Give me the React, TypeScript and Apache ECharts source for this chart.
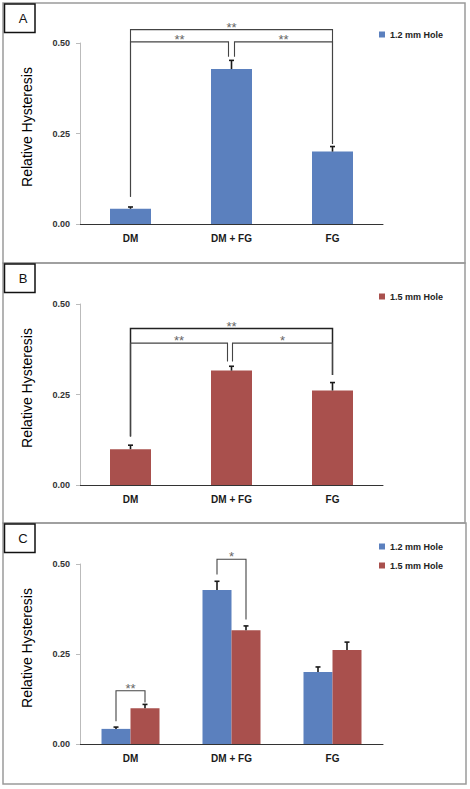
import React, { useEffect, useRef } from "react";
import * as echarts from "echarts";

const categories = ["DM", "DM + FG", "FG"];
const seriesNames = ["1.2 mm Hole", "1.5 mm Hole"];
const hole12 = [0.042, 0.428, 0.2];
const hole12Err = [0.005, 0.024, 0.014];
const hole15 = [0.099, 0.316, 0.261];
const hole15Err = [0.011, 0.012, 0.022];
const yTicks = [0, 0.25, 0.5];
const panelLetters = ["A", "B", "C"];
const yTitle = "Relative Hysteresis";

// significance brackets: category indices, value levels, label
const bracketsA = [
  { from: 0, to: 2, top: 0.537, leftEnd: 0.075, rightEnd: 0.221, label: "**" },
  { from: 0, to: 1, top: 0.503, leftEnd: 0.075, rightEnd: 0.462, label: "**", toShift: -3 },
  { from: 1, to: 2, top: 0.503, leftEnd: 0.462, rightEnd: 0.221, label: "**", fromShift: 3 },
];
const bracketsB = [
  { from: 0, to: 2, top: 0.432, leftEnd: 0.134, rightEnd: 0.304, label: "**", heavy: true },
  { from: 0, to: 1, top: 0.392, leftEnd: 0.134, rightEnd: 0.341, label: "**", toShift: -4 },
  { from: 1, to: 2, top: 0.392, leftEnd: 0.341, rightEnd: 0.304, label: "*", fromShift: 1 },
];
const bracketsC = [
  { from: 0, to: 0, top: 0.148, leftEnd: 0.063, rightEnd: 0.115, label: "**", fromSeries: 0, toSeries: 1 },
  { from: 1, to: 1, top: 0.513, leftEnd: 0.471, rightEnd: 0.346, label: "*", fromSeries: 0, toSeries: 1 },
];

const BLUE = "#5B80BE";
const RED = "#A9504D";
const FONT = "'Liberation Sans', Arial, sans-serif";
const BAR_SINGLE = 41;
const BAR_PAIR = 29;

const gridTops = [43, 304, 564];

function errorSeries(gi: number, vals: number[], errs: number[], offset: number) {
  return {
    type: "custom",
    xAxisIndex: gi,
    yAxisIndex: gi,
    z: 5,
    silent: true,
    data: vals.map((v, i) => [i, v, v + errs[i]]),
    renderItem: (params: any, api: any) => {
      const base = api.coord([api.value(0), api.value(1)]);
      const top = api.coord([api.value(0), api.value(2)]);
      const x = base[0] + offset;
      return {
        type: "group",
        children: [
          { type: "line", shape: { x1: x, y1: base[1], x2: x, y2: top[1] }, style: { stroke: "#1a1a1a", lineWidth: 1.6 } },
          { type: "line", shape: { x1: x - 2.5, y1: top[1], x2: x + 2.5, y2: top[1] }, style: { stroke: "#1a1a1a", lineWidth: 1.6 } },
        ],
      };
    },
  };
}

function bracketSeries(gi: number, brackets: any[], pairOffset: number) {
  return {
    type: "custom",
    xAxisIndex: gi,
    yAxisIndex: gi,
    z: 6,
    silent: true,
    clip: false,
    data: brackets.map((b) => [b.from, b.top]),
    renderItem: (params: any, api: any) => {
      const b = brackets[params.dataIndex];
      const so = (s: any) => (s === undefined ? 0 : s === 0 ? -pairOffset : pairOffset);
      const pTopL = api.coord([b.from, b.top]);
      const pTopR = api.coord([b.to, b.top]);
      const xl = pTopL[0] + so(b.fromSeries) + (b.fromShift || 0);
      const xr = pTopR[0] + so(b.toSeries) + (b.toShift || 0);
      const yt = pTopL[1];
      const yl = api.coord([b.from, b.leftEnd])[1];
      const yr = api.coord([b.to, b.rightEnd])[1];
      const stroke = b.heavy ? "#222" : "#444";
      const lw = b.heavy ? 1.5 : 1.1;
      return {
        type: "group",
        children: [
          { type: "polyline", shape: { points: [[xl, yl], [xl, yt], [xr, yt], [xr, yr]] }, style: { stroke, lineWidth: lw, fill: "none" } },
          {
            type: "text",
            style: {
              text: b.label,
              x: (xl + xr) / 2,
              y: yt + 4,
              align: "center",
              verticalAlign: "bottom",
              fill: "#666",
              font: `13px ${FONT}`,
            },
          },
        ],
      };
    },
  };
}

export default function App() {
  const ref = useRef<HTMLDivElement>(null);
  useEffect(() => {
    if (!ref.current) return;
    const chart = echarts.init(ref.current, null, { renderer: "svg" });
    const grids = gridTops.map((t, i) => ({ left: 80, top: t, width: 303, height: i === 2 ? 180 : 181 }));
    const xAxes = grids.map((_, i) => ({
      type: "category",
      gridIndex: i,
      data: categories,
      axisLine: { lineStyle: { color: "#333", width: 1 } },
      axisTick: { show: false },
      axisLabel: { color: "#1a1a1a", fontWeight: "bold", fontSize: 10, fontFamily: FONT, margin: 9 },
    }));
    const yAxes = grids.map((_, i) => ({
      type: "value",
      gridIndex: i,
      min: 0,
      max: 0.5,
      interval: 0.25,
      axisLine: { show: true, lineStyle: { color: "#bbb", width: 1 } },
      axisTick: { show: true, length: 4, lineStyle: { color: "#bbb" } },
      splitLine: { show: false },
      axisLabel: {
        color: "#333",
        fontWeight: "bold",
        fontSize: 9,
        fontFamily: FONT,
        margin: 10,
        formatter: (v: number) => (yTicks.includes(v) ? v.toFixed(2) : ""),
      },
    }));
    const legendBase = {
      icon: "rect",
      itemWidth: 6,
      itemHeight: 6,
      orient: "vertical",
      itemGap: 10,
      textStyle: { color: "#222", fontWeight: "bold", fontSize: 9, fontFamily: FONT },
      selectedMode: false,
    };
    const graphic: any[] = [];
    const frames = [
      [3, 3, 462, 260],
      [3, 263, 462, 260],
      [3, 523, 463, 261],
    ];
    frames.forEach((f, i) => {
      graphic.push({ type: "rect", shape: { x: f[0], y: f[1], width: f[2], height: f[3] }, style: { fill: "none", stroke: "#9a9a9a", lineWidth: 1.5 } });
      graphic.push({ type: "rect", shape: { x: 4.5, y: f[1] + 1, width: 30.5, height: 28.5 }, style: { fill: "#fff", stroke: "#111", lineWidth: 1.5 } });
      graphic.push({ type: "text", x: 23, y: f[1] + 15.5, style: { text: panelLetters[i], align: "center", verticalAlign: "middle", font: `13px ${FONT}`, fill: "#111" } });
      graphic.push({
        type: "text",
        x: 27,
        y: gridTops[i] + 84,
        rotation: Math.PI / 2,
        style: { text: yTitle, align: "center", verticalAlign: "middle", font: `14px ${FONT}`, fill: "#000" },
      });
    });

    chart.setOption({
      animation: false,
      textStyle: { fontFamily: FONT },
      grid: grids,
      xAxis: xAxes,
      yAxis: yAxes,
      legend: [
        { ...legendBase, left: 374, top: 25, data: [seriesNames[0]] },
        { ...legendBase, left: 374, top: 287, data: [seriesNames[1]] },
        { ...legendBase, left: 374, top: 537, data: [seriesNames[0], seriesNames[1]] },
      ],
      graphic,
      series: [
        { type: "bar", name: seriesNames[0], xAxisIndex: 0, yAxisIndex: 0, data: hole12, barWidth: BAR_SINGLE, itemStyle: { color: BLUE } },
        errorSeries(0, hole12, hole12Err, 0),
        bracketSeries(0, bracketsA, 0),
        { type: "bar", name: seriesNames[1], xAxisIndex: 1, yAxisIndex: 1, data: hole15, barWidth: BAR_SINGLE, itemStyle: { color: RED } },
        errorSeries(1, hole15, hole15Err, 0),
        bracketSeries(1, bracketsB, 0),
        { type: "bar", name: seriesNames[0], xAxisIndex: 2, yAxisIndex: 2, data: hole12, barWidth: BAR_PAIR, barGap: "0%", itemStyle: { color: BLUE } },
        { type: "bar", name: seriesNames[1], xAxisIndex: 2, yAxisIndex: 2, data: hole15, barWidth: BAR_PAIR, barGap: "0%", itemStyle: { color: RED } },
        errorSeries(2, hole12, hole12Err, -BAR_PAIR / 2),
        errorSeries(2, hole15, hole15Err, BAR_PAIR / 2),
        bracketSeries(2, bracketsC, BAR_PAIR / 2),
      ],
    });
    return () => chart.dispose();
  }, []);
  return <div ref={ref} style={{ position: "fixed", left: 0, top: 0, width: 470, height: 789, background: "#fff" }} />;
}
